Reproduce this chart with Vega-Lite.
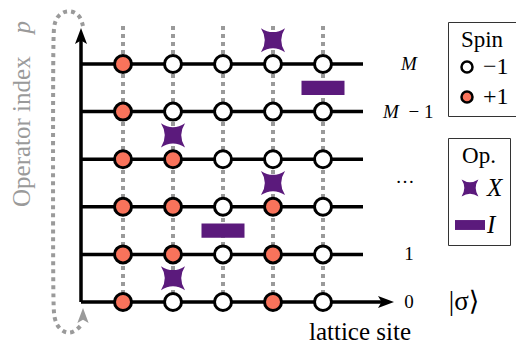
{
  "$schema": "https://vega.github.io/schema/vega-lite/v6.json",
  "width": 516,
  "height": 345,
  "autosize": {"type": "none"},
  "padding": 0,
  "background": "white",
  "config": {"view": {"stroke": null}, "font": "Liberation Serif, DejaVu Serif, serif"},
  "datasets": {
    "spins": [
      {"site": 1, "p": 0, "spin": "+1"}, {"site": 2, "p": 0, "spin": "−1"}, {"site": 3, "p": 0, "spin": "−1"}, {"site": 4, "p": 0, "spin": "+1"}, {"site": 5, "p": 0, "spin": "−1"},
      {"site": 1, "p": 1, "spin": "+1"}, {"site": 2, "p": 1, "spin": "+1"}, {"site": 3, "p": 1, "spin": "−1"}, {"site": 4, "p": 1, "spin": "+1"}, {"site": 5, "p": 1, "spin": "−1"},
      {"site": 1, "p": 2, "spin": "+1"}, {"site": 2, "p": 2, "spin": "+1"}, {"site": 3, "p": 2, "spin": "−1"}, {"site": 4, "p": 2, "spin": "+1"}, {"site": 5, "p": 2, "spin": "−1"},
      {"site": 1, "p": 3, "spin": "+1"}, {"site": 2, "p": 3, "spin": "+1"}, {"site": 3, "p": 3, "spin": "−1"}, {"site": 4, "p": 3, "spin": "−1"}, {"site": 5, "p": 3, "spin": "−1"},
      {"site": 1, "p": 4, "spin": "+1"}, {"site": 2, "p": 4, "spin": "−1"}, {"site": 3, "p": 4, "spin": "−1"}, {"site": 4, "p": 4, "spin": "−1"}, {"site": 5, "p": 4, "spin": "−1"},
      {"site": 1, "p": 5, "spin": "+1"}, {"site": 2, "p": 5, "spin": "−1"}, {"site": 3, "p": 5, "spin": "−1"}, {"site": 4, "p": 5, "spin": "−1"}, {"site": 5, "p": 5, "spin": "−1"}
    ],
    "ops": [
      {"site": 2, "p": 0.5, "op": "X"},
      {"site": 3, "p": 1.5, "op": "I"},
      {"site": 4, "p": 2.5, "op": "X"},
      {"site": 2, "p": 3.5, "op": "X"},
      {"site": 5, "p": 4.5, "op": "I"},
      {"site": 4, "p": 5.5, "op": "X"}
    ],
    "verticals": [
      {"site": 1, "p": 0, "p2": 5.82}, {"site": 2, "p": 0, "p2": 5.82}, {"site": 3, "p": 0, "p2": 5.82}, {"site": 4, "p": 0, "p2": 5.82}, {"site": 5, "p": 0, "p2": 5.82}
    ],
    "horizontals": [
      {"p": 0, "site": 0.16, "site2": 6.26},
      {"p": 1, "site": 0.16, "site2": 5.8},
      {"p": 2, "site": 0.16, "site2": 5.8},
      {"p": 3, "site": 0.16, "site2": 5.8},
      {"p": 4, "site": 0.16, "site2": 5.8},
      {"p": 5, "site": 0.16, "site2": 5.8}
    ],
    "yaxis": [{"site": 0.16, "p": 0, "p2": 5.59}],
    "arrowRight": [{"site": 6.26, "p": 0}],
    "arrowUp": [{"site": 0.16, "p": 5.588}],
    "arrowLoop": [{"site": 0.2, "p": -0.284}],
    "loop": [
      {"i": 0, "site": 0.2, "p": 5.798},
      {"i": 1, "site": 0.14, "p": 6.029},
      {"i": 2, "site": -0.06, "p": 6.134},
      {"i": 3, "site": -0.26, "p": 6.071},
      {"i": 4, "site": -0.38, "p": 5.882},
      {"i": 5, "site": -0.4, "p": 5.504},
      {"i": 6, "site": -0.4, "p": 0.042},
      {"i": 7, "site": -0.38, "p": -0.378},
      {"i": 8, "site": -0.26, "p": -0.588},
      {"i": 9, "site": -0.08, "p": -0.672},
      {"i": 10, "site": 0.08, "p": -0.588},
      {"i": 11, "site": 0.18, "p": -0.462}
    ],
    "rowLabels": [
      {"t": "0", "site": 6.72, "p": 0},
      {"t": "1", "site": 6.72, "p": 1},
      {"t": "− 1", "site": 6.96, "p": 4},
      {"t": "…", "site": 6.64, "p": 2.63}
    ],
    "italicLabels": [
      {"t": "M", "site": 6.72, "p": 5},
      {"t": "M", "site": 6.36, "p": 4}
    ],
    "ket": [{"t": "|σ⟩", "site": 7.82, "p": 0}],
    "xtitle": [{"t": "lattice site", "site": 5.74, "p": -0.798}],
    "ytitle": [{"t": "Operator index", "site": -1.02, "p": 1.996}],
    "ytitleP": [{"t": "p", "site": -1.02, "p": 5.903}]
  },
  "encoding": {
    "x": {"field": "site", "type": "quantitative", "scale": {"domain": [-1.46, 8.86], "nice": false, "zero": false}, "axis": null},
    "y": {"field": "p", "type": "quantitative", "scale": {"domain": [-0.9034, 6.3445], "nice": false, "zero": false}, "axis": null}
  },
  "layer": [
    {
      "data": {"name": "verticals"},
      "mark": {"type": "rule", "color": "#9a9a9a", "strokeWidth": 4, "strokeDash": [4, 4]},
      "encoding": {"y2": {"field": "p2"}}
    },
    {
      "data": {"name": "loop"},
      "mark": {"type": "line", "color": "#9a9a9a", "strokeWidth": 4, "strokeDash": [4, 4], "interpolate": "basis"},
      "encoding": {"order": {"field": "i", "type": "quantitative"}}
    },
    {
      "data": {"name": "horizontals"},
      "mark": {"type": "rule", "color": "black", "strokeWidth": 3.5},
      "encoding": {"x2": {"field": "site2"}}
    },
    {
      "data": {"name": "yaxis"},
      "mark": {"type": "rule", "color": "black", "strokeWidth": 3.5},
      "encoding": {"y2": {"field": "p2"}}
    },
    {
      "data": {"name": "arrowRight"},
      "mark": {"type": "point", "shape": "M1,0L-1,-0.75L-0.55,0L-1,0.75Z", "filled": true, "size": 256, "color": "black", "opacity": 1}
    },
    {
      "data": {"name": "arrowUp"},
      "mark": {"type": "point", "shape": "M0,-1L0.75,1L0,0.55L-0.75,1Z", "filled": true, "size": 256, "color": "black", "opacity": 1}
    },
    {
      "data": {"name": "arrowLoop"},
      "mark": {"type": "point", "shape": "M0,-1L0.75,1L0,0.55L-0.75,1Z", "filled": true, "size": 225, "color": "#9a9a9a", "opacity": 1}
    },
    {
      "data": {"name": "spins"},
      "mark": {"type": "point", "shape": "circle", "filled": true, "size": 289, "stroke": "black", "strokeWidth": 3, "opacity": 1},
      "encoding": {
        "fill": {
          "field": "spin", "type": "nominal",
          "scale": {"domain": ["−1", "+1"], "range": ["white", "#f9735b"]},
          "legend": {
            "title": "Spin", "orient": "none", "legendX": 448, "legendY": 22,
            "strokeColor": "#333333", "fillColor": "white", "padding": 7,
            "titleFont": "Liberation Serif, DejaVu Serif, serif", "titleFontSize": 23, "titleFontWeight": "normal", "titleColor": "black",
            "titleAnchor": "middle", "titleAlign": "center", "titlePadding": 3,
            "labelFont": "Liberation Serif, DejaVu Serif, serif", "labelFontSize": 24, "labelColor": "black", "labelOffset": 4,
            "symbolType": "circle", "symbolSize": 121, "symbolStrokeColor": "black", "symbolStrokeWidth": 2.5,
            "rowPadding": 6
          }
        }
      }
    },
    {
      "data": {"name": "ops"},
      "mark": {"type": "point", "filled": true, "size": 1849, "color": "#5b1a7c", "strokeWidth": 0, "opacity": 1},
      "encoding": {
        "shape": {
          "field": "op", "type": "nominal",
          "scale": {"domain": ["X", "I"], "range": ["M-0.56,-0.56Q0,-0.2 0.56,-0.56Q0.2,0 0.56,0.56Q0,0.2 -0.56,0.56Q-0.2,0 -0.56,-0.56Z", "M-1,-0.33H1V0.33H-1Z"]},
          "legend": {
            "title": "Op.", "orient": "none", "legendX": 448, "legendY": 138,
            "strokeColor": "#333333", "fillColor": "white", "padding": 7,
            "titleFont": "Liberation Serif, DejaVu Serif, serif", "titleFontSize": 23, "titleFontWeight": "normal", "titleColor": "black",
            "titleAnchor": "middle", "titleAlign": "center", "titlePadding": 5,
            "labelFont": "Liberation Serif, DejaVu Serif, serif", "labelFontSize": 25, "labelFontStyle": "italic", "labelColor": "black", "labelOffset": 2,
            "symbolSize": 900, "symbolFillColor": "#5b1a7c", "symbolStrokeWidth": 0,
            "rowPadding": 9
          }
        }
      }
    },
    {
      "data": {"name": "rowLabels"},
      "mark": {"type": "text", "font": "Liberation Serif, DejaVu Serif, serif", "fontSize": 19, "color": "black", "align": "center", "baseline": "middle"},
      "encoding": {"text": {"field": "t"}}
    },
    {
      "data": {"name": "italicLabels"},
      "mark": {"type": "text", "font": "Liberation Serif, DejaVu Serif, serif", "fontSize": 19, "fontStyle": "italic", "color": "black", "align": "center", "baseline": "middle"},
      "encoding": {"text": {"field": "t"}}
    },
    {
      "data": {"name": "ket"},
      "mark": {"type": "text", "font": "Liberation Serif, DejaVu Serif, serif", "fontSize": 27, "color": "black", "align": "center", "baseline": "middle"},
      "encoding": {"text": {"field": "t"}}
    },
    {
      "data": {"name": "xtitle"},
      "mark": {"type": "text", "font": "Liberation Serif, DejaVu Serif, serif", "fontSize": 25, "color": "black", "align": "center", "baseline": "alphabetic"},
      "encoding": {"text": {"field": "t"}}
    },
    {
      "data": {"name": "ytitle"},
      "mark": {"type": "text", "font": "Liberation Serif, DejaVu Serif, serif", "fontSize": 25, "color": "#9a9a9a", "align": "left", "baseline": "middle", "angle": 270},
      "encoding": {"text": {"field": "t"}}
    },
    {
      "data": {"name": "ytitleP"},
      "mark": {"type": "text", "font": "Liberation Serif, DejaVu Serif, serif", "fontSize": 25, "fontStyle": "italic", "color": "#9a9a9a", "align": "right", "baseline": "middle", "angle": 270},
      "encoding": {"text": {"field": "t"}}
    }
  ]
}
